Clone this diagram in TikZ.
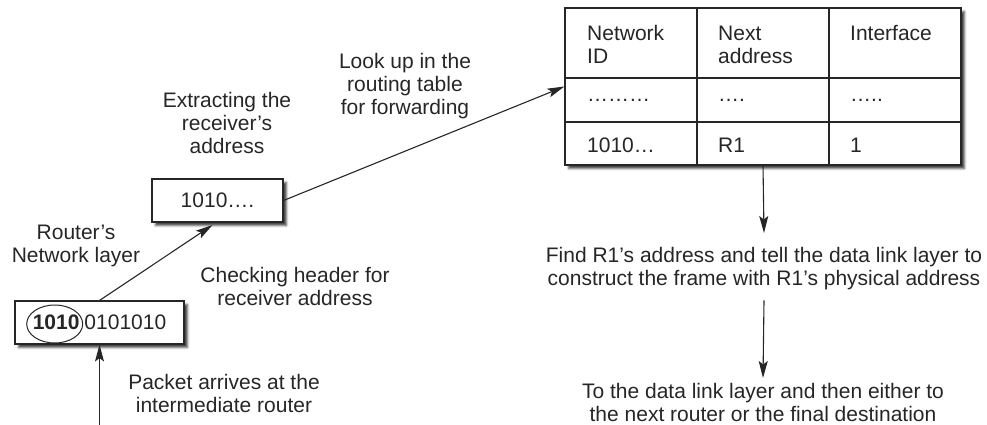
\documentclass[tikz,border=0pt]{standalone}
\usepackage{fontspec}
\setmainfont{Liberation Sans}
\usetikzlibrary{arrows.meta,shadows.blur}
\definecolor{ink}{HTML}{262626}
\begin{document}
\begin{tikzpicture}[x=1pt,y=-1pt,
  txt/.style={font=\fontsize{21}{23}\selectfont, text=ink, inner sep=0pt, align=center, anchor=north},
  cell/.style={font=\fontsize{21}{23}\selectfont, text=ink, inner sep=0pt, align=left},
  box/.style={draw=ink, line width=1.1pt, fill=white, inner sep=0pt,
    blur shadow={shadow xshift=3.5pt, shadow yshift=-3.5pt, shadow blur steps=4, shadow blur extra rounding=0pt, shadow opacity=75},
    font=\fontsize{21}{23}\selectfont, text=ink},
  arr/.style={draw=ink, line width=1.1pt, -{Stealth[length=17pt,width=9pt,inset=3.5pt]}},
  grid/.style={draw=ink, line width=1.1pt},
]
\useasboundingbox (0,0) rectangle (987,425);

% boxes
\node[box, minimum width=169pt, minimum height=43pt] (pkt) at (99.5,322.5) {\textbf{1010}\hspace{5pt}0101010};
\coordinate (oval) at (54.7,324);
\draw[ink, line width=1pt] (oval) ellipse [x radius=28, y radius=19];
\node[box, minimum width=131pt, minimum height=43pt] (addr) at (217.5,200.5) {1010….};
\node[box, minimum width=396pt, minimum height=157pt] (table) at (763,86.5) {};

% table grid
\draw[grid] (697,8) -- (697,165);
\draw[grid] (829,8) -- (829,165);
\draw[grid] (565,78) -- (961,78);
\draw[grid] (565,122) -- (961,122);

% table cells
\node[cell, anchor=north west] (h1) at (587,25.5) {Network\\ID};
\node[cell, anchor=north west] (h2) at (718,25.5) {Next\\address};
\node[cell, anchor=north west] (h3) at (850,25.5) {Interface};
\node[cell, anchor=base west] (d1) at (587,102) {………};
\node[cell, anchor=base west] (d2) at (718,102) {….};
\node[cell, anchor=base west] (d3) at (850,102) {…..};
\node[cell, anchor=base west] (r1) at (587,152.5) {1010…};
\node[cell, anchor=base west] (r2) at (718,152.5) {R1};
\node[cell, anchor=base west] (r3) at (850,152.5) {1};

% labels
\node[txt] (look) at (405,53.5) {Look up in the\\routing table\\for forwarding};
\node[txt] (extract) at (227,92.5) {Extracting the\\receiver’s\\address};
\node[txt] (router) at (76,224.5) {Router’s\\Network layer};
\node[txt] (check) at (295,267.5) {Checking header for\\receiver address};
\node[txt] (packet) at (224,374.5) {Packet arrives at the\\intermediate router};
\node[txt] (find) at (764,247.5) {Find R1’s address and tell the data link layer to\\construct the frame with R1’s physical address};
\node[txt] (todl) at (763,383.5) {To the data link layer and then either to\\the next router or the final destination};

% connectors
\coordinate (in) at (99.5,425);
\draw[arr] (in) -- (pkt.south);
\draw[arr] (pkt.north) -- ([xshift=-5pt,yshift=-2.5pt]addr.south);
\draw[arr] (addr.east) -- (table.west);
\draw[arr] (table.south) -- ([yshift=14.5pt]find.north);
\draw[arr] ([yshift=-10pt]find.south) -- ([yshift=5.5pt]todl.north);
\end{tikzpicture}
\end{document}
